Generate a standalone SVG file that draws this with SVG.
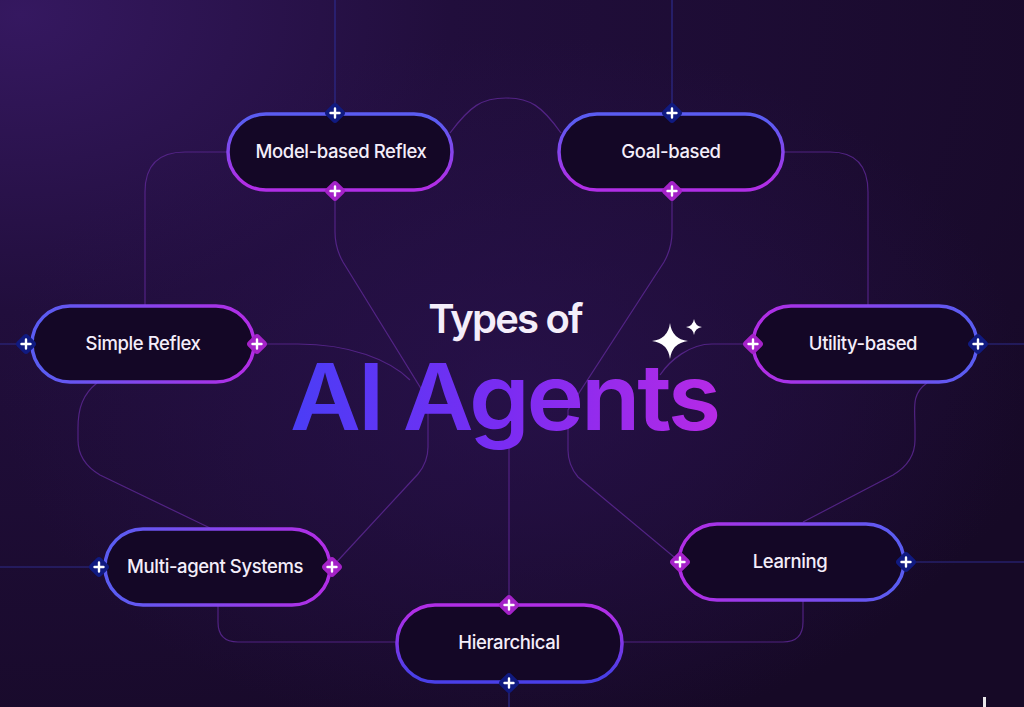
<svg xmlns="http://www.w3.org/2000/svg" width="1024" height="707" viewBox="0 0 1024 707">
<defs>
<radialGradient id="bg" cx="0.02" cy="0.02" r="1.2">
<stop offset="0" stop-color="#351860"/>
<stop offset="0.35" stop-color="#210e3c"/>
<stop offset="1" stop-color="#160926"/>
</radialGradient>
<radialGradient id="glow" cx="0.5" cy="0.55" r="0.5">
<stop offset="0" stop-color="#2a1250" stop-opacity="0.7"/>
<stop offset="1" stop-color="#2a1250" stop-opacity="0"/>
</radialGradient>
<linearGradient id="gV" x1="0" y1="0" x2="0" y2="1"><stop offset="0.1" stop-color="#5b5cf2"/><stop offset="0.9" stop-color="#b02ee6"/></linearGradient>
<linearGradient id="gVr" x1="0" y1="0" x2="0" y2="1"><stop offset="0.1" stop-color="#b02ee6"/><stop offset="0.9" stop-color="#4a3fe8"/></linearGradient>
<linearGradient id="gH" x1="0" y1="0" x2="1" y2="0"><stop offset="0.05" stop-color="#5b5cf2"/><stop offset="0.95" stop-color="#b02ee6"/></linearGradient>
<linearGradient id="gHr" x1="0" y1="0" x2="1" y2="0"><stop offset="0.05" stop-color="#b02ee6"/><stop offset="0.95" stop-color="#5b5cf2"/></linearGradient>
<linearGradient id="title" x1="290" y1="0" x2="718" y2="0" gradientUnits="userSpaceOnUse"><stop offset="0" stop-color="#4a3df6"/><stop offset="0.5" stop-color="#7a2cf2"/><stop offset="1" stop-color="#b62ae6"/></linearGradient>
<g id="plus"><path d="M-4.5,0H4.5M0,-4.5V4.5" stroke="#ffffff" stroke-width="2.4" stroke-linecap="round"/></g>
<g id="dB"><rect x="-8" y="-8" width="16" height="16" rx="3.5" transform="rotate(45)" fill="#101a80"/><use href="#plus"/></g>
<g id="dM"><rect x="-8" y="-8" width="16" height="16" rx="3.5" transform="rotate(45)" fill="#a422c8"/><use href="#plus"/></g>
</defs>
<style>
.pill{fill:#140726;stroke-width:3.5}
.lbl{font-family:Inter,"Noto Sans","Liberation Sans",sans-serif;font-size:18.5px;font-weight:500;fill:#f4eefa;text-anchor:middle;letter-spacing:-0.4px}
.con{fill:none;stroke:#5a2790;stroke-width:1.2;opacity:0.85}
.conb{fill:none;stroke:#2c2a8a;stroke-width:1.2}
</style>
<rect width="1024" height="707" fill="url(#bg)"/>
<rect width="1024" height="707" fill="url(#glow)"/>

<g id="connectors">
<path class="conb" d="M335,0V113M672,0V113M0,344H26M978,344H1024M0,567H99M906,562H1024M509,683V707"/>
<path class="con" d="M450,133C470,106 482,98 506,98C530,98 542,106 561,133"/>
<path class="con" d="M228,152H185Q145,152 145,192V306"/>
<path class="con" d="M783,152H830Q868,152 868,192V306"/>
<path class="con" d="M335,191V232Q335,248 343,262L428,400V447Q428,462 418,474L332,567"/>
<path class="con" d="M257,344H298C350,344 390,360 410,380"/>
<path class="con" d="M672,191V232Q672,248 664,262L568,410V450Q568,465 578,477L680,562"/>
<path class="con" d="M753,344H712C690,344 670,360 660,375"/>
<path class="con" d="M97,383C83,394 78,408 78,428V440Q78,462 100,475L210,528"/>
<path class="con" d="M927,383C911,394 915,408 915,428V440Q915,462 893,475L803,522"/>
<path class="con" d="M218,605V622Q218,642 238,642H397"/>
<path class="con" d="M803,600V622Q803,642 783,642H622"/>
<path class="con" d="M509,440V605"/>
</g>

<g id="title-text">
<text x="505" y="333" font-family="Inter,'Noto Sans','Liberation Sans',sans-serif" font-size="40" font-weight="600" fill="#f4eefa" text-anchor="middle" letter-spacing="-1.8">Types of</text>
<text x="290" y="430" font-family="Inter,'Noto Sans','Liberation Sans',sans-serif" font-size="92" font-weight="600" fill="url(#title)" textLength="428" lengthAdjust="spacingAndGlyphs" letter-spacing="-3">AI Agents</text>
<path d="M670,323Q672,339 688,341Q672,343 670,359Q668,343 652,341Q668,339 670,323Z" fill="#ffffff"/>
<path d="M694,319Q695,326 702,327Q695,328 694,335Q693,328 686,327Q693,326 694,319Z" fill="#ffffff"/>
</g>

<g id="node-model">
<rect class="pill" x="228" y="114" width="224" height="76" rx="38" stroke="url(#gV)"/>
<text class="lbl" x="341" y="158">Model-based Reflex</text>
<use href="#dB" x="335" y="113"/><use href="#dM" x="335" y="191"/>
</g>
<g id="node-goal">
<rect class="pill" x="559" y="114" width="224" height="76" rx="38" stroke="url(#gV)"/>
<text class="lbl" x="671" y="158">Goal-based</text>
<use href="#dB" x="672" y="113"/><use href="#dM" x="672" y="191"/>
</g>
<g id="node-simple">
<rect class="pill" x="32" y="306" width="222" height="76" rx="38" stroke="url(#gH)"/>
<text class="lbl" x="143" y="350">Simple Reflex</text>
<use href="#dB" x="26" y="344"/><use href="#dM" x="257" y="344"/>
</g>
<g id="node-utility">
<rect class="pill" x="753" y="306" width="224" height="76" rx="38" stroke="url(#gHr)"/>
<text class="lbl" x="863" y="350">Utility-based</text>
<use href="#dM" x="753" y="344"/><use href="#dB" x="978" y="344"/>
</g>
<g id="node-multi">
<rect class="pill" x="105" y="529" width="225" height="76" rx="38" stroke="url(#gH)"/>
<text class="lbl" x="215" y="573">Multi-agent Systems</text>
<use href="#dB" x="99" y="567"/><use href="#dM" x="332" y="567"/>
</g>
<g id="node-learning">
<rect class="pill" x="679" y="524" width="225" height="76" rx="38" stroke="url(#gHr)"/>
<text class="lbl" x="790" y="568">Learning</text>
<use href="#dM" x="680" y="562"/><use href="#dB" x="906" y="562"/>
</g>
<g id="node-hier">
<rect class="pill" x="397" y="605" width="225" height="77" rx="38" stroke="url(#gVr)"/>
<text class="lbl" x="509" y="649">Hierarchical</text>
<use href="#dM" x="509" y="605"/><use href="#dB" x="509" y="683"/>
</g>
<rect x="983" y="697" width="3" height="10" fill="#ffffff" opacity="0.9"/>
</svg>
